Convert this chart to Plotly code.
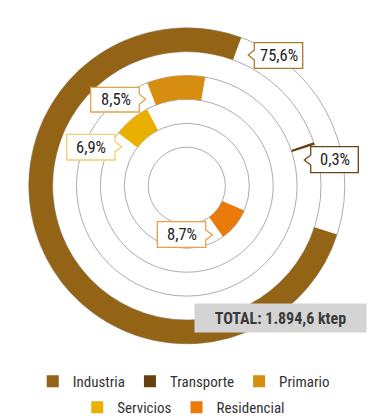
import plotly.graph_objects as go

# ---------------- data ----------------
categories = ["Industria", "Transporte", "Primario", "Servicios", "Residencial"]
shares = [75.6, 0.3, 8.5, 6.9, 8.7]          # % of final energy consumption
total_ktep = "1.894,6"
colors = ["#936316", "#67400f", "#d68d10", "#e9b000", "#ea7b0a"]
label_borders = ["#a87a2e", "#6b4414", "#e2a44a", "#f1cf6e", "#ef9b48"]
# where each arc starts (degrees clockwise from 12 o'clock)
start_angles = [108.0, 71.1, -21.0, -52.3, 113.2]

W, H = 375, 417
ring_edges = [38.6, 62.5, 86.4, 110.3, 134.2, 158.0]   # radial units == px
CX, CY, RMAX = 186.8, 185.8, 160.0

fig = go.Figure()
n = len(categories)
for i, (cat, v, col, a0) in enumerate(zip(categories, shares, colors, start_angles)):
    inner = ring_edges[n - 1 - i]
    outer = ring_edges[n - i]
    span = v * 3.6
    fig.add_trace(go.Barpolar(
        r=[outer - inner], base=[inner], theta=[a0 + span / 2], width=[span],
        name=cat, marker=dict(color=col, line=dict(width=0)),
        legend="legend" if i < 3 else "legend2",
        hoverinfo="name",
    ))

FONT = "Roboto Condensed, Liberation Sans Narrow, DejaVu Sans Condensed, Roboto, sans-serif"
LEG_FONT = dict(size=15, color="#333333")
fig.update_layout(
    width=W, height=H, margin=dict(l=0, r=0, t=0, b=0, autoexpand=False),
    paper_bgcolor="white", plot_bgcolor="white",
    font=dict(family=FONT, color="#333333", size=13),
    polar=dict(
        domain=dict(x=[(CX - RMAX) / W, (CX + RMAX) / W],
                    y=[(H - CY - RMAX) / H, (H - CY + RMAX) / H]),
        bgcolor="white",
        bargap=0,
        radialaxis=dict(range=[0, RMAX], tickvals=ring_edges, showticklabels=False,
                        ticks="", showline=False, gridcolor="#acacac", gridwidth=1.4,
                        layer="above traces"),
        angularaxis=dict(rotation=90, direction="clockwise", showgrid=False,
                         showline=False, showticklabels=False, ticks=""),
    ),
    legend=dict(orientation="h", x=0.49, xanchor="center", y=1 - 381.5 / H, yanchor="middle",
                xref="container", yref="container", itemwidth=30,
                font=LEG_FONT, itemclick=False, itemdoubleclick=False),
    legend2=dict(orientation="h", x=0.49, xanchor="center", y=1 - 407.5 / H, yanchor="middle",
                 xref="container", yref="container", itemwidth=30,
                 font=LEG_FONT, itemclick=False, itemdoubleclick=False),
    showlegend=True,
)

# ---------------- value call-outs ----------------
# box (x0, y0, x1, y1) in px, notch side, notch tip (x, y)
boxes = [
    ((254.3, 42.7, 302.7, 68.3), "left", (248.3, 55.0)),
    ((310.7, 146.7, 358.3, 172.7), "left", (304.3, 160.0)),
    ((90.7, 87.3, 139.3, 112.0), "right", (145.7, 99.3)),
    ((66.7, 134.3, 115.0, 160.0), "right", (121.7, 146.7)),
    ((157.3, 221.7, 205.7, 247.3), "right", (212.3, 235.0)),
]

def px(x):
    return x / W

def py(y):
    return 1 - y / H

for (box, side, tip), v, bc in zip(boxes, shares, label_borders):
    x0, y0, x1, y1 = box
    tx, ty = tip
    h = 5
    if side == "left":
        pts = [(x0, y0), (x1, y0), (x1, y1), (x0, y1), (x0, ty + h), (tx, ty), (x0, ty - h)]
    else:
        pts = [(x0, y0), (x1, y0), (x1, ty - h), (tx, ty), (x1, ty + h), (x1, y1), (x0, y1)]
    path = "M " + " L ".join(f"{px(a):.5f},{py(b):.5f}" for a, b in pts) + " Z"
    fig.add_shape(type="path", path=path, xref="paper", yref="paper",
                  line=dict(color=bc, width=1.3), fillcolor="white", layer="above")
    fig.add_annotation(x=px((x0 + x1) / 2 + 0.5), y=py((y0 + y1) / 2), xref="paper", yref="paper",
                       xanchor="center", yanchor="middle",
                       text=f"{v:.1f}%".replace(".", ","), showarrow=False,
                       font=dict(size=16.5, color="#222222"))

# ---------------- total box ----------------
fig.add_annotation(x=px(280.4), y=py(318.0), xref="paper", yref="paper",
                   xanchor="center", yanchor="middle",
                   text=f"<b>TOTAL: {total_ktep} ktep</b>", showarrow=False,
                   width=167, height=24, borderpad=2, bgcolor="#d4d4d4",
                   font=dict(size=16, color="#3a3a3a"))

fig.write_html("out.html", config={"displayModeBar": False},
               post_script="document.body.style.margin='0';")
